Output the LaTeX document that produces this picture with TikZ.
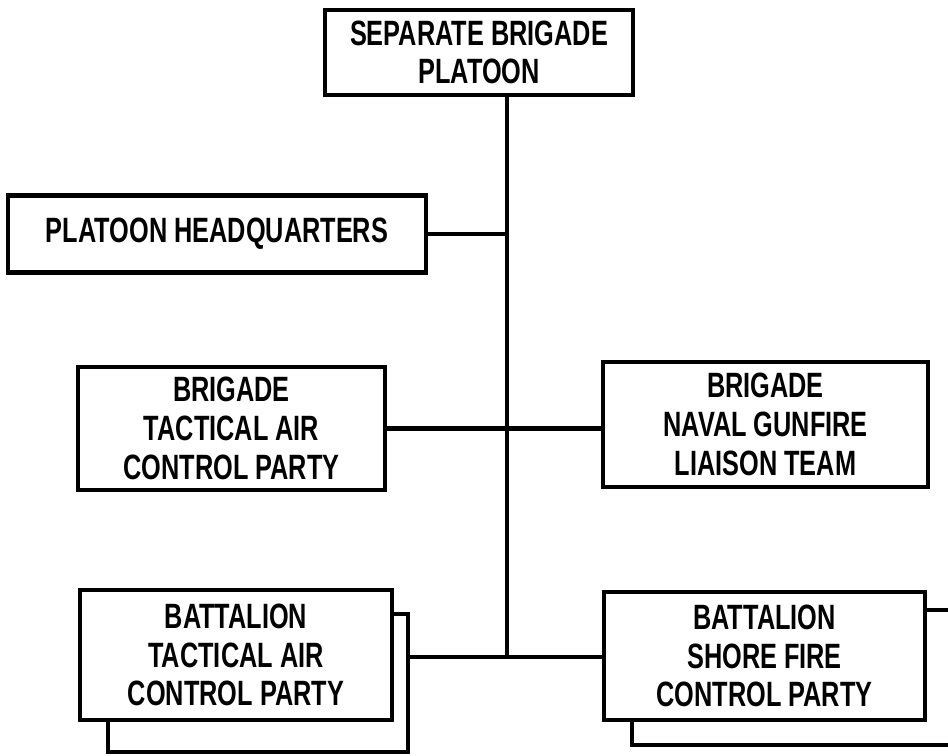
\documentclass[tikz,border=0pt]{standalone}
\usepackage{fontspec}
\setmainfont{Liberation Sans}[FakeStretch=0.72]

\tikzset{
  unitbox/.style={draw, line width=3.2pt, fill=white, inner sep=0pt,
    font=\bfseries\fontsize{25}{27.5}\selectfont, align=center},
  link/.style={line width=3.4pt},
}

\begin{document}
\begin{tikzpicture}[x=0.025cm,y=-0.025cm]
  \useasboundingbox (0,0) rectangle (948,756);
  \clip (0,0) rectangle (948,756);
  \coordinate (trunk) at (507,657);
  % back sheets of the battalion boxes
  \node[unitbox, minimum width=7.5cm, minimum height=3.45cm] (bntacpback) at (258,683) {};
  \node[unitbox, minimum width=8.95cm, minimum height=3.375cm] (bnsfcpback) at (811,677.5) {};
  %
  \node[unitbox, minimum width=7.7cm, minimum height=2.125cm] (brig) at (479,52.5)
    {SEPARATE BRIGADE\\PLATOON};
  \node[unitbox, minimum width=10.45cm, minimum height=1.925cm] (hq) at (217,234)
    {PLATOON HEADQUARTERS};
  \node[unitbox, minimum width=7.675cm, minimum height=3.075cm] (btacp) at (231.5,428.5)
    {BRIGADE\\TACTICAL AIR\\CONTROL PARTY};
  \node[unitbox, minimum width=8.125cm, minimum height=3.125cm] (bnglt) at (765.5,424.5)
    {BRIGADE\\NAVAL GUNFIRE\\LIAISON TEAM};
  \node[unitbox, minimum width=7.8cm, minimum height=3.25cm] (bntacp) at (236,655)
    {BATTALION\\TACTICAL AIR\\CONTROL PARTY};
  \node[unitbox, minimum width=8.025cm, minimum height=3.2cm] (bnsfcp) at (764.5,656)
    {BATTALION\\SHORE FIRE\\CONTROL PARTY};
  %
  \draw[link] (brig.south -| trunk) -- (trunk);
  \draw[link] (hq.east) -- (hq.east -| trunk);
  \draw[link] (btacp.east) -- (btacp.east -| bnglt.west);
  \draw[link] (bntacpback.east |- trunk) -- (bnsfcp.west |- trunk);
\end{tikzpicture}
\end{document}
